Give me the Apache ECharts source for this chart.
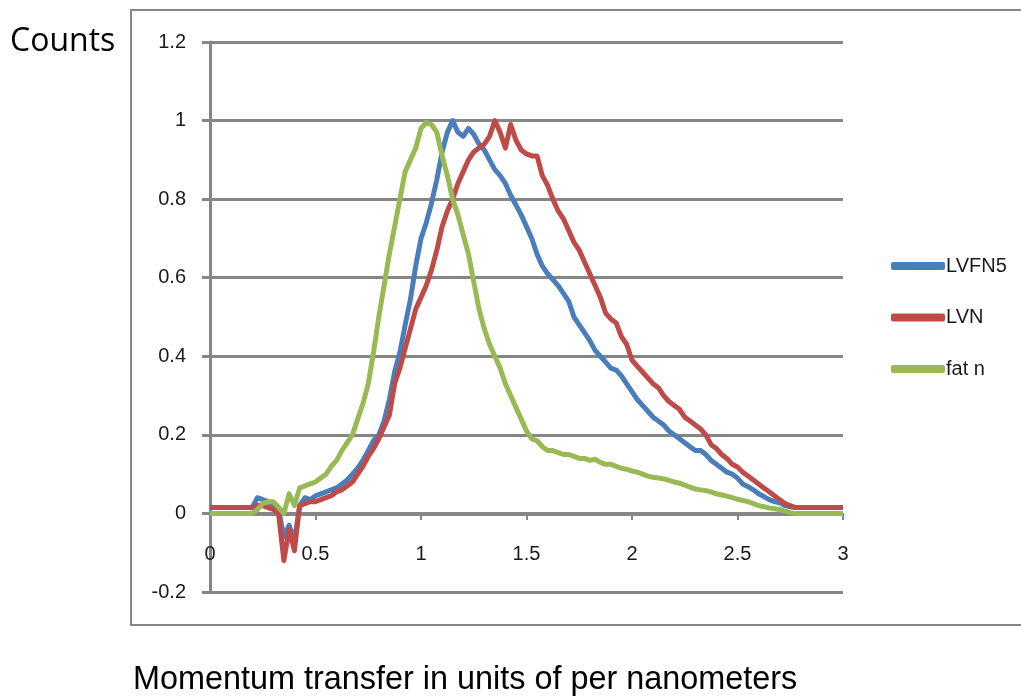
<!DOCTYPE html>
<html>
<head>
<meta charset="utf-8">
<script src="https://cdn.jsdelivr.net/npm/echarts@6/dist/echarts.min.js"></script>
<style>
html,body{margin:0;padding:0;background:#fff;}
#chart{width:1021px;height:696px;}
</style>
</head>
<body>
<div id="chart"></div>
<script>
// x positions (momentum transfer, per nm)
var xs = [0,0.025,0.05,0.075,0.1,0.125,0.15,0.175,0.2,0.225,0.25,0.275,0.3,0.325,0.35,0.375,0.4,0.425,0.45,0.475,
0.5,0.525,0.55,0.575,0.6,0.625,0.65,0.675,0.7,0.725,0.75,0.775,0.8,0.825,0.85,0.875,0.9,0.925,0.95,0.975,
1,1.025,1.05,1.075,1.1,1.125,1.15,1.175,1.2,1.225,1.25,1.275,1.3,1.325,1.35,1.375,1.4,1.425,1.45,1.475,
1.5,1.525,1.55,1.575,1.6,1.625,1.65,1.675,1.7,1.725,1.75,1.775,1.8,1.825,1.85,1.875,1.9,1.925,1.95,1.975,
2,2.025,2.05,2.075,2.1,2.125,2.15,2.175,2.2,2.225,2.25,2.275,2.3,2.325,2.35,2.375,2.4,2.425,2.45,2.475,
2.5,2.525,2.55,2.575,2.6,2.625,2.65,2.675,2.7,2.725,2.75,2.775,2.8,2.825,2.85,2.875,2.9,2.925,2.95,2.975,3];

var lvfn5 = [0.015,0.015,0.015,0.015,0.015,0.015,0.015,0.015,0.015,0.04,0.035,0.03,0.02,0.01,-0.06,-0.03,-0.07,0.02,0.04,0.035,
0.045,0.05,0.055,0.06,0.065,0.075,0.085,0.1,0.115,0.135,0.16,0.185,0.2,0.235,0.29,0.36,0.41,0.48,0.545,0.63,
0.7,0.74,0.79,0.85,0.92,0.97,1.0,0.97,0.96,0.98,0.965,0.94,0.925,0.9,0.875,0.86,0.84,0.81,0.785,0.76,
0.73,0.7,0.66,0.63,0.61,0.595,0.58,0.56,0.54,0.5,0.48,0.46,0.44,0.415,0.4,0.385,0.37,0.365,0.35,0.33,
0.31,0.29,0.275,0.26,0.245,0.235,0.225,0.21,0.2,0.19,0.18,0.17,0.16,0.16,0.15,0.135,0.125,0.115,0.105,0.1,
0.09,0.075,0.068,0.06,0.05,0.043,0.035,0.03,0.027,0.02,0.017,0.015,0.015,0.015,0.015,0.015,0.015,0.015,0.015,0.015,0.015];

var lvn = [0.015,0.015,0.015,0.015,0.015,0.015,0.015,0.015,0.015,0.02,0.02,0.015,0.01,0.0,-0.12,-0.04,-0.095,0.02,0.025,0.03,
0.03,0.035,0.04,0.045,0.055,0.06,0.07,0.08,0.1,0.12,0.145,0.165,0.19,0.22,0.25,0.33,0.37,0.42,0.47,0.52,
0.55,0.58,0.62,0.67,0.73,0.77,0.8,0.84,0.87,0.9,0.92,0.93,0.94,0.96,1.0,0.97,0.93,0.99,0.95,0.925,
0.915,0.91,0.91,0.86,0.835,0.8,0.77,0.75,0.72,0.69,0.67,0.64,0.61,0.58,0.55,0.51,0.495,0.485,0.45,0.43,
0.39,0.375,0.36,0.345,0.33,0.32,0.3,0.285,0.275,0.265,0.245,0.235,0.225,0.215,0.2,0.175,0.165,0.15,0.14,0.125,
0.118,0.105,0.095,0.085,0.075,0.065,0.055,0.045,0.035,0.025,0.02,0.015,0.015,0.015,0.015,0.015,0.015,0.015,0.015,0.015,0.015];

var fatN = [0,0,0,0,0,0,0,0,0,0.01,0.025,0.03,0.03,0.015,0.0,0.05,0.02,0.065,0.07,0.075,
0.08,0.09,0.1,0.12,0.135,0.16,0.18,0.2,0.24,0.28,0.33,0.41,0.5,0.58,0.66,0.73,0.8,0.87,0.9,0.93,
0.98,0.995,0.99,0.97,0.91,0.86,0.8,0.76,0.71,0.66,0.59,0.52,0.47,0.43,0.4,0.37,0.33,0.3,0.27,0.24,
0.21,0.19,0.185,0.17,0.16,0.16,0.155,0.15,0.15,0.145,0.14,0.14,0.135,0.138,0.13,0.125,0.125,0.12,0.115,0.112,
0.108,0.105,0.1,0.095,0.092,0.09,0.088,0.084,0.08,0.077,0.072,0.067,0.062,0.06,0.058,0.055,0.05,0.047,0.044,0.04,
0.036,0.033,0.03,0.025,0.02,0.017,0.014,0.012,0.01,0.006,0.002,0,0,0,0,0,0,0,0,0,0];

var seriesNames = ['LVFN5', 'LVN', 'fat n'];
var seriesColors = ['#4A7EBB', '#BE4B48', '#98B954'];
var yLabel = 'Counts';
var xLabel = 'Momentum transfer in units of per nanometers';

function pairs(ys) { return xs.map(function (x, i) { return [x, ys[i]]; }); }
var allY = [lvfn5, lvn, fatN];

var chart = echarts.init(document.getElementById('chart'), null, {renderer: 'canvas'});
var gridColor = '#868686';
chart.setOption({
  animation: false,
  backgroundColor: '#ffffff',
  grid: {left: 210, right: 178, top: 42, bottom: 104, containLabel: false},
  xAxis: {
    type: 'value', min: 0, max: 3, interval: 0.5,
    offset: -78,
    axisLine: {show: true, onZero: false, lineStyle: {color: gridColor, width: 3}},
    axisTick: {show: true, inside: false, length: 6, lineStyle: {color: gridColor, width: 2}},
    axisLabel: {margin: 30, color: '#1a1a1a', fontFamily: 'Liberation Sans, Arial', fontSize: 20},
    splitLine: {show: false}
  },
  yAxis: {
    type: 'value', min: -0.2, max: 1.2, interval: 0.2,
    axisLine: {show: true, lineStyle: {color: gridColor, width: 3}},
    axisTick: {show: true, length: 8, lineStyle: {color: gridColor, width: 3}},
    axisLabel: {margin: 24, color: '#1a1a1a', fontFamily: 'Liberation Sans, Arial', fontSize: 20,
      formatter: function (v) { return String(Math.round(v * 10) / 10); }},
    splitLine: {show: true, lineStyle: {color: gridColor, width: 3}}
  },
  legend: {
    orient: 'vertical', left: 886, top: 251,
    itemWidth: 54, itemHeight: 8, itemGap: 31.5,
    icon: 'roundRect',
    textStyle: {fontFamily: 'Liberation Sans, Arial', fontSize: 20, color: '#1a1a1a', padding: [0, 0, 0, -4]},
    data: seriesNames
  },
  series: seriesNames.map(function (n, k) {
    return {
      name: n, type: 'line', data: pairs(allY[k]), showSymbol: false, symbol: 'none',
      lineStyle: {color: seriesColors[k], width: 5, join: 'round'},
      itemStyle: {color: seriesColors[k]},
      z: 2 + k
    };
  }),
  graphic: [
    {type: 'rect', shape: {x: 131, y: 10, width: 1000, height: 615}, style: {fill: 'none', stroke: gridColor, lineWidth: 2}, silent: true, z: -1},
    {type: 'text', x: 10, y: 42, style: {text: yLabel, font: '32px "Open Sans"', fill: '#000', textVerticalAlign: 'middle', verticalAlign: 'middle'}},
    {type: 'text', x: 133, y: 680, style: {text: xLabel, font: '32.4px "Liberation Sans", Arial', fill: '#000', textVerticalAlign: 'middle', verticalAlign: 'middle'}}
  ]
});
</script>
</body>
</html>
